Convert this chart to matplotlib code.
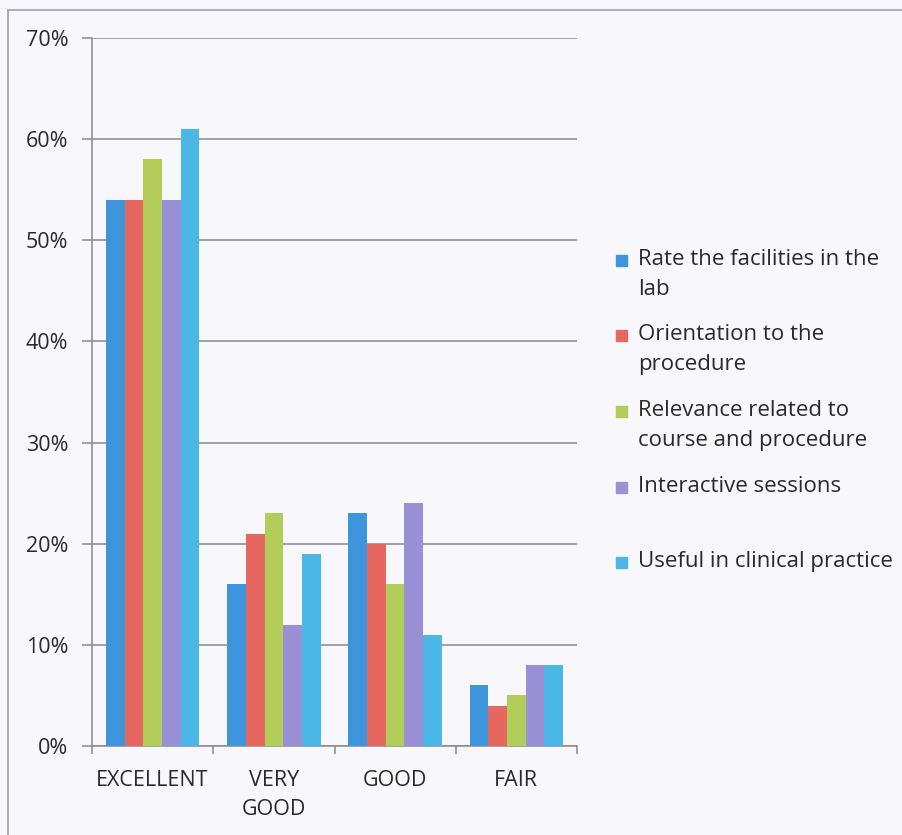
import matplotlib
matplotlib.use("Agg")
import matplotlib.pyplot as plt
import numpy as np
from matplotlib.patches import Rectangle
from matplotlib.lines import Line2D

categories = ["EXCELLENT", "VERY\nGOOD", "GOOD", "FAIR"]
series_names = [
    "Rate the facilities in the\nlab",
    "Orientation to the\nprocedure",
    "Relevance related to\ncourse and procedure",
    "Interactive sessions",
    "Useful in clinical practice",
]
facilities = [54, 16, 23, 6]
orientation = [54, 21, 20, 4]
relevance = [58, 23, 16, 5]
interactive = [54, 12, 24, 8]
useful = [61, 19, 11, 8]
series_values = [facilities, orientation, relevance, interactive, useful]
y_ticks = [0, 10, 20, 30, 40, 50, 60, 70]

colors = ["#3f95db", "#e5675f", "#b3cd5a", "#9a90d6", "#4ab7e6"]
bg = "#f8f7fc"
txt = "#2a2a2a"
font = ["Open Sans", "DejaVu Sans"]
plt.rcParams['font.family'] = font

W, H = 902, 835
fig = plt.figure(figsize=(W / 100, H / 100), dpi=100, facecolor=bg)

# outer chart frame
fig.add_artist(Line2D([8 / W, 8 / W], [0, 1 - 10 / H], transform=fig.transFigure,
                      color="#a0a0a8", lw=1.2))
fig.add_artist(Line2D([8 / W, 1], [1 - 10 / H, 1 - 10 / H], transform=fig.transFigure,
                      color="#a0a0a8", lw=1.2))

left, right, top, bottom = 92, 577, 38, 746
ax = fig.add_axes([left / W, 1 - bottom / H, (right - left) / W, (bottom - top) / H])
ax.set_facecolor(bg)

n = len(series_values)
x = np.arange(len(categories))
group_w = 0.77
bw = group_w / n
for i, (vals, c) in enumerate(zip(series_values, colors)):
    ax.bar(x - group_w / 2 + bw * (i + 0.5), vals, width=bw, color=c, zorder=3)

ax.set_xlim(-0.5, len(categories) - 0.5)
ax.set_ylim(0, 70)
ax.set_yticks(y_ticks)
ax.set_yticklabels([f"{v}%" for v in y_ticks], fontsize=15.5, color=txt)
ax.yaxis.grid(True, color="#8a8a8e", lw=1.1, zorder=0)
ax.set_axisbelow(True)

ax.set_xticks(x)
ax.set_xticklabels(categories, fontsize=15.5, color=txt, linespacing=1.5)
ax.tick_params(axis="x", which="major", length=0, pad=17.5)
ax.set_xticks(np.arange(-0.5, len(categories)), minor=True)
ax.tick_params(axis="x", which="minor", length=6, color="#8a8a8e", width=1.1)
ax.tick_params(axis="y", length=7, color="#8a8a8e", width=1.1, pad=10)

for s in ["top", "right"]:
    ax.spines[s].set_visible(False)
ax.spines["left"].set_color("#8a8a8e")
ax.spines["bottom"].set_color("#8a8a8e")
ax.spines["left"].set_linewidth(1.1)
ax.spines["bottom"].set_linewidth(1.1)

# legend (baselines of first line, in pixels from top)
legend_base = [265, 340, 416, 492, 567]
line_step = 30
for name, c, yy in zip(series_names, colors, legend_base):
    fig.add_artist(Rectangle((616 / W, 1 - (yy + 1) / H), 11 / W, 11 / H,
                             transform=fig.transFigure, color=c))
    for k, line in enumerate(name.split("\n")):
        fig.text(638 / W, 1 - (yy + k * line_step) / H, line, fontsize=16,
                 color=txt, va="baseline", ha="left")

fig.savefig("out.png", dpi=100, facecolor=bg)
